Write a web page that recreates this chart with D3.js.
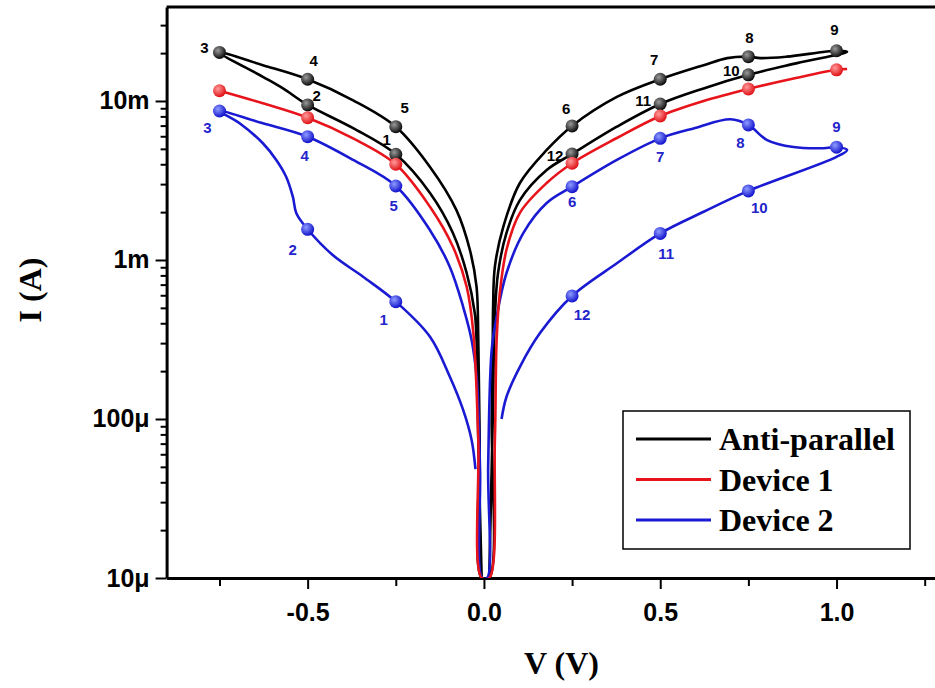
<!DOCTYPE html>
<html>
<head>
<meta charset="utf-8">
<script src="https://cdn.jsdelivr.net/npm/d3@7"></script>
<style>
    body { margin: 0; background: #fff; }
    svg { display: block; }
</style>
</head>
<body>
<svg id="chart" width="935" height="688"></svg>
<script>
// sweep of the anti-parallel pair: 0 -> -0.75 -> 0 -> 1.03 -> 0
const antiV = [-0.0065, -0.016, -0.021, -0.026, -0.049, -0.088, -0.153, -0.25, -0.371, -0.5, -0.57, -0.627, -0.75,
    -0.627, -0.5, -0.371, -0.25, -0.153, -0.078, -0.04, -0.021, -0.016, -0.012, -0.0065,
    0.015, 0.022, 0.025, 0.026, 0.031, 0.055, 0.102, 0.178, 0.25, 0.377, 0.5, 0.623, 0.69, 0.75, 0.784, 0.859, 1.0, 1.03,
    0.888, 0.75, 0.623, 0.5, 0.377, 0.25, 0.178, 0.102, 0.064, 0.04, 0.031, 0.025, 0.015];
const antiI = [1e-5, 7.4e-5, 3.14e-4, 4.64e-4, 8.28e-4, 1.48e-3, 2.64e-3, 4.62e-3, 6.74e-3, 9.44e-3, 1.20e-2, 1.42e-2, 2.02e-2,
    1.68e-2, 1.37e-2, 1.01e-2, 6.89e-3, 3.85e-3, 2.06e-3, 1.16e-3, 6.79e-4, 3.14e-4, 7.4e-5, 1e-5,
    1e-5, 1.0e-4, 3.14e-4, 5.08e-4, 9.07e-4, 1.62e-3, 3.05e-3, 4.92e-3, 6.97e-3, 1.06e-2, 1.37e-2, 1.68e-2, 1.86e-2, 1.90e-2, 1.86e-2, 1.90e-2, 2.07e-2, 2.04e-2,
    1.73e-2, 1.46e-2, 1.20e-2, 9.57e-3, 6.89e-3, 4.64e-3, 3.68e-3, 2.38e-3, 1.48e-3, 8.28e-4, 4.40e-4, 1.0e-4, 1e-5];

// device 1 (forward and return lie on top of each other)
const dev1V = [-0.75, -0.627, -0.5, -0.371, -0.25, -0.153, -0.088, -0.049, -0.03, -0.016, -0.0065,
    0.015, 0.031, 0.036, 0.045, 0.064, 0.102, 0.178, 0.25, 0.377, 0.5, 0.623, 0.75, 0.888, 1.0, 1.03];
const dev1I = [1.16e-2, 9.67e-3, 7.85e-3, 5.82e-3, 4.00e-3, 2.16e-3, 1.21e-3, 6.79e-4, 3.47e-4, 7.38e-5, 1e-5,
    1e-5, 7.38e-5, 3.14e-4, 6.20e-4, 1.16e-3, 1.98e-3, 3.05e-3, 4.06e-3, 5.85e-3, 8.05e-3, 1.0e-2, 1.19e-2, 1.40e-2, 1.57e-2, 1.59e-2];

// device 2 sweep
const dev2V = [-0.024, -0.035, -0.059, -0.097, -0.153, -0.25, -0.343, -0.428, -0.5, -0.532, -0.542, -0.561, -0.589, -0.627, -0.693, -0.75,
    -0.627, -0.5, -0.371, -0.25, -0.153, -0.097, -0.059, -0.035, -0.02, -0.011, -0.005,
    0.009, 0.012, 0.022, 0.036, 0.064, 0.112, 0.178, 0.25, 0.377, 0.5, 0.599, 0.699, 0.75, 0.803, 0.878, 0.955, 1.0, 1.03,
    1.0, 0.75, 0.623, 0.5, 0.377, 0.25, 0.159, 0.102, 0.064, 0.05];
const dev2I = [4.83e-5, 7.38e-5, 1.14e-4, 1.85e-4, 3.29e-4, 5.47e-4, 7.85e-4, 1.07e-3, 1.56e-3, 1.97e-3, 2.50e-3, 3.34e-3, 4.26e-3, 5.42e-3, 7.24e-3, 8.65e-3,
    7.24e-3, 5.96e-3, 4.26e-3, 2.92e-3, 1.54e-3, 9.07e-4, 5.08e-4, 3.14e-4, 1.76e-4, 4.77e-5, 1e-5,
    1e-5, 5.01e-5, 2.72e-4, 4.40e-4, 8.28e-4, 1.48e-3, 2.28e-3, 2.89e-3, 4.26e-3, 5.82e-3, 6.76e-3, 7.67e-3, 7.07e-3, 5.68e-3, 5.13e-3, 5.04e-3, 5.12e-3, 4.92e-3,
    4.45e-3, 2.72e-3, 2.01e-3, 1.47e-3, 9.53e-4, 5.94e-4, 3.47e-4, 2.13e-4, 1.38e-4, 1.0e-4];

// numbered measurement points
const markLabels = ['1', '2', '3', '4', '5', '6', '7', '8', '9', '10', '11', '12'];
const antiMarkV = [-0.25, -0.5, -0.75, -0.5, -0.25, 0.25, 0.5, 0.75, 1.0, 0.75, 0.5, 0.25];
const antiMarkI = [4.62e-3, 9.44e-3, 2.02e-2, 1.37e-2, 6.89e-3, 6.97e-3, 1.37e-2, 1.90e-2, 2.07e-2, 1.46e-2, 9.57e-3, 4.64e-3];
const dev1MarkV = [-0.75, -0.5, -0.25, 0.25, 0.5, 0.75, 1.0];
const dev1MarkI = [1.16e-2, 7.85e-3, 4.00e-3, 4.06e-3, 8.05e-3, 1.19e-2, 1.57e-2];
const dev2MarkV = [-0.25, -0.5, -0.75, -0.5, -0.25, 0.25, 0.5, 0.75, 1.0, 0.75, 0.5, 0.25];
const dev2MarkI = [5.47e-4, 1.56e-3, 8.65e-3, 5.96e-3, 2.92e-3, 2.89e-3, 5.82e-3, 7.07e-3, 5.12e-3, 2.72e-3, 1.47e-3, 5.94e-4];

const xTicks = [-0.5, 0.0, 0.5, 1.0];
const xMinorTicks = [-0.75, -0.25, 0.25, 0.75, 1.25];
const yTicks = [1e-5, 1e-4, 1e-3, 1e-2];
const yTickLabels = ['10μ', '100μ', '1m', '10m'];

const seriesNames = ['Anti-parallel', 'Device 1', 'Device 2'];

// layout only: where the point numbers sit relative to their dot
const antiLabelOffsets = [[-9, -15], [9, -9], [-15, -5], [6, -19], [9, -19], [-6, -17], [-6, -20], [1, -19], [-2, -21], [-17, -4], [-17, -3], [-17, 2]];
const dev2LabelOffsets = [[-12, 18], [-15, 20], [-12, 17], [-3, 19], [-2, 20], [0, 15], [0, 18], [-8, 18], [0, -21], [11, 17], [6, 20], [10, 19]];

const colors = { black: '#000000', red: '#e8141c', blue: '#1a1ad2' };

const svg = d3.select('#chart');
const plotLeft = 166.6, plotBottom = 578, plotTop = 7;

const x = d3.scaleLinear().domain([-0.9, 1.3]).range([plotLeft, plotLeft + 2.2 * 352.6]);
const y = d3.scaleLog().domain([1e-5, 0.039]).range([plotBottom, plotTop]);

// gradients for the shaded balls
const defs = svg.append('defs');
function ball(id, light, dark) {
    const g = defs.append('radialGradient').attr('id', id)
        .attr('cx', '38%').attr('cy', '35%').attr('r', '65%');
    g.append('stop').attr('offset', '0%').attr('stop-color', light);
    g.append('stop').attr('offset', '100%').attr('stop-color', dark);
}
ball('ballBlack', '#9a9a9a', '#0a0a0a');
ball('ballRed', '#ff9a9a', '#e01015');
ball('ballBlue', '#8e9cff', '#1212cc');

defs.append('clipPath').attr('id', 'plotClip')
    .append('rect')
    .attr('x', plotLeft).attr('y', plotTop)
    .attr('width', 935 - plotLeft).attr('height', plotBottom - plotTop);

// axes
const yMinor = [];
yTicks.forEach(t => {
    for (let k = 2; k <= 9; k++) {
        if (t * k < 0.039) yMinor.push(t * k);
    }
});

svg.append('g')
    .attr('transform', `translate(${plotLeft},0)`)
    .call(d3.axisLeft(y).tickValues(yMinor).tickSize(6).tickFormat(''))
    .call(g => g.select('.domain').remove())
    .call(g => g.selectAll('.tick line').attr('stroke-width', 2));

svg.append('g')
    .attr('transform', `translate(${plotLeft},0)`)
    .call(d3.axisLeft(y).tickValues(yTicks).tickSize(11).tickSizeOuter(0).tickPadding(6)
        .tickFormat((d, i) => yTickLabels[i]))
    .call(g => g.select('.domain').attr('stroke-width', 3))
    .call(g => g.selectAll('.tick line').attr('stroke-width', 2))
    .call(g => g.selectAll('.tick text')
        .attr('font-family', 'Liberation Sans, Arial, sans-serif')
        .attr('font-weight', 'bold').attr('font-size', '25px').attr('fill', '#000'));

svg.append('g')
    .attr('transform', `translate(0,${plotBottom})`)
    .call(d3.axisBottom(x).tickValues(xMinorTicks).tickSize(8).tickFormat(''))
    .call(g => g.select('.domain').remove())
    .call(g => g.selectAll('.tick line').attr('stroke-width', 2));

svg.append('g')
    .attr('transform', `translate(0,${plotBottom})`)
    .call(d3.axisBottom(x).tickValues(xTicks).tickSize(11).tickSizeOuter(0).tickPadding(14)
        .tickFormat(d => d.toFixed(1)))
    .call(g => g.select('.domain').attr('stroke-width', 3))
    .call(g => g.selectAll('.tick line').attr('stroke-width', 2))
    .call(g => g.selectAll('.tick text')
        .attr('font-family', 'Liberation Sans, Arial, sans-serif')
        .attr('font-weight', 'bold').attr('font-size', '25px').attr('fill', '#000'));

// top frame line
svg.append('line')
    .attr('x1', plotLeft).attr('x2', 935)
    .attr('y1', plotTop).attr('y2', plotTop)
    .attr('stroke', '#000').attr('stroke-width', 3);

// axis titles
svg.append('text')
    .attr('x', x(0.22)).attr('y', 674)
    .attr('text-anchor', 'middle')
    .attr('font-family', 'Liberation Serif, Times New Roman, serif')
    .attr('font-weight', 'bold').attr('font-size', '32px')
    .text('V (V)');

svg.append('text')
    .attr('transform', 'translate(41,290) rotate(-90)')
    .attr('text-anchor', 'middle')
    .attr('font-family', 'Liberation Serif, Times New Roman, serif')
    .attr('font-weight', 'bold').attr('font-size', '32px')
    .text('I (A)');

// curves
const line = d3.line()
    .x(d => x(d[0]))
    .y(d => y(d[1]))
    .curve(d3.curveCatmullRom.alpha(0.5));

const plot = svg.append('g').attr('clip-path', 'url(#plotClip)');

function drawCurve(vs, is, color) {
    plot.append('path')
        .datum(vs.map((v, i) => [v, is[i]]))
        .attr('d', line)
        .attr('fill', 'none')
        .attr('stroke', color)
        .attr('stroke-width', 2.6)
        .attr('stroke-linejoin', 'round');
}

drawCurve(antiV, antiI, colors.black);
drawCurve(dev2V, dev2I, colors.blue);
drawCurve(dev1V, dev1I, colors.red);

function drawDots(vs, is, fill) {
    vs.forEach((v, i) => {
        svg.append('circle')
            .attr('cx', x(v))
            .attr('cy', y(is[i]))
            .attr('r', 6.5)
            .attr('fill', `url(#${fill})`);
    });
}

drawDots(antiMarkV, antiMarkI, 'ballBlack');
drawDots(dev1MarkV, dev1MarkI, 'ballRed');
drawDots(dev2MarkV, dev2MarkI, 'ballBlue');

function drawLabels(vs, is, offsets, color) {
    vs.forEach((v, i) => {
        svg.append('text')
            .attr('x', x(v) + offsets[i][0])
            .attr('y', y(is[i]) + offsets[i][1])
            .attr('dy', '0.36em')
            .attr('text-anchor', 'middle')
            .attr('font-family', 'Liberation Sans, Arial, sans-serif')
            .attr('font-weight', 'bold')
            .attr('font-size', '15px')
            .attr('fill', color)
            .text(markLabels[i]);
    });
}

drawLabels(antiMarkV, antiMarkI, antiLabelOffsets, '#000');
drawLabels(dev2MarkV, dev2MarkI, dev2LabelOffsets, '#2424cc');

// legend
const legend = svg.append('g').attr('transform', 'translate(623,411)');
legend.append('rect')
    .attr('width', 287).attr('height', 138)
    .attr('fill', '#fff').attr('stroke', '#000').attr('stroke-width', 1.5);

[colors.black, colors.red, colors.blue].forEach((c, i) => {
    const rowY = 28 + i * 40.5;
    legend.append('line')
        .attr('x1', 13).attr('x2', 88)
        .attr('y1', rowY).attr('y2', rowY)
        .attr('stroke', c).attr('stroke-width', 3);
    legend.append('text')
        .attr('x', 96).attr('y', rowY + 11)
        .attr('font-family', 'Liberation Serif, Times New Roman, serif')
        .attr('font-weight', 'bold').attr('font-size', '32px')
        .text(seriesNames[i]);
});
</script>
</body>
</html>
